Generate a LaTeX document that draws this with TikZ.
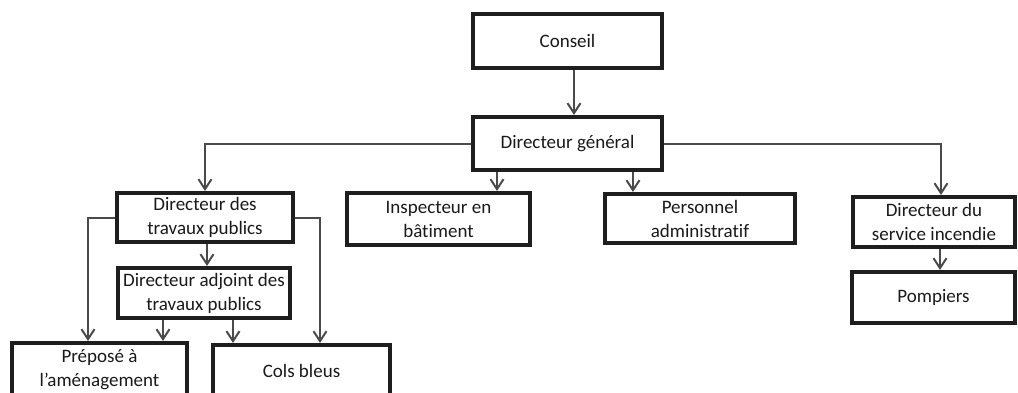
\documentclass[tikz,border=0pt]{standalone}
\usepackage{fontspec}
\setmainfont{Carlito}[Ligatures={TeX,NoCommon}]
\usetikzlibrary{arrows.meta,calc}
\definecolor{boxline}{HTML}{1E1E1E}
\definecolor{conn}{HTML}{4A4A4A}
\definecolor{txt}{HTML}{1A1A1A}
\tikzset{
  orgbox/.style={draw=boxline, line width=4pt, rectangle, inner sep=0pt, align=center,
    text=txt, font=\fontsize{19}{24}\selectfont},
  link/.style={draw=conn, line width=2pt, -{Straight Barb[length=10pt,width=13pt,line width=2pt]}},
}
\begin{document}
\begin{tikzpicture}[x=1pt,y=-1pt]
\clip (0,0) rectangle (1018,392);
\fill[white] (0,0) rectangle (1018,392);
% boxes
\node[orgbox, minimum width=189pt, minimum height=54pt] (conseil) at (567.5,41) {Conseil};
\node[orgbox, minimum width=189pt, minimum height=53pt] (dg) at (567.5,143.5) {Directeur général};
\node[orgbox, minimum width=183pt, minimum height=52pt] (insp) at (438.5,219) {Inspecteur en\\bâtiment};
\node[orgbox, minimum width=190pt, minimum height=49pt] (pers) at (700,218.5) {Personnel\\administratif};
\node[orgbox, minimum width=176pt, minimum height=49pt] (dtp) at (205,217.5) {Directeur des\\travaux publics};
\node[orgbox, minimum width=172pt, minimum height=50pt] (datp) at (204,293) {Directeur adjoint des\\travaux publics};
\node[orgbox, minimum width=175pt, minimum height=54pt] (prep) at (99.5,370) {Préposé à\\l\char"27 aménagement};
\node[orgbox, minimum width=177pt, minimum height=52pt] (cols) at (301.5,371) {Cols bleus};
\node[orgbox, minimum width=162pt, minimum height=50pt] (dsi) at (934,222) {Directeur du\\service incendie};
\node[orgbox, minimum width=163pt, minimum height=51pt] (pomp) at (933.5,297.5) {Pompiers};
% helper x positions
\coordinate (xc) at (574,0);
\coordinate (xi) at (497,0);
\coordinate (xp) at (633,0);
\coordinate (xs) at (941,0);
\coordinate (xs2) at (940,0);
\coordinate (xl) at (88,0);
\coordinate (xr) at (320,0);
\coordinate (xa) at (163,0);
\coordinate (xb) at (233,0);
\coordinate (xd) at (207,0);
% connectors
\draw[link] (conseil.south -| xc) -- (dg.north -| xc);
\draw[link] (dg.west) -| (dtp.north);
\draw[link] (dg.east) -| (dsi.north -| xs);
\draw[link] (dg.south -| xi) -- (insp.north -| xi);
\draw[link] (dg.south -| xp) -- (pers.north -| xp);
\draw[link] (dtp.south -| xd) -- (datp.north -| xd);
\draw[link] (dtp.west) -| (prep.north -| xl);
\draw[link] (dtp.east) -| (cols.north -| xr);
\draw[link] (datp.south -| xa) -- (prep.north -| xa);
\draw[link] (datp.south -| xb) -- (cols.north -| xb);
\draw[link] (dsi.south -| xs2) -- (pomp.north -| xs2);
\end{tikzpicture}
\end{document}
